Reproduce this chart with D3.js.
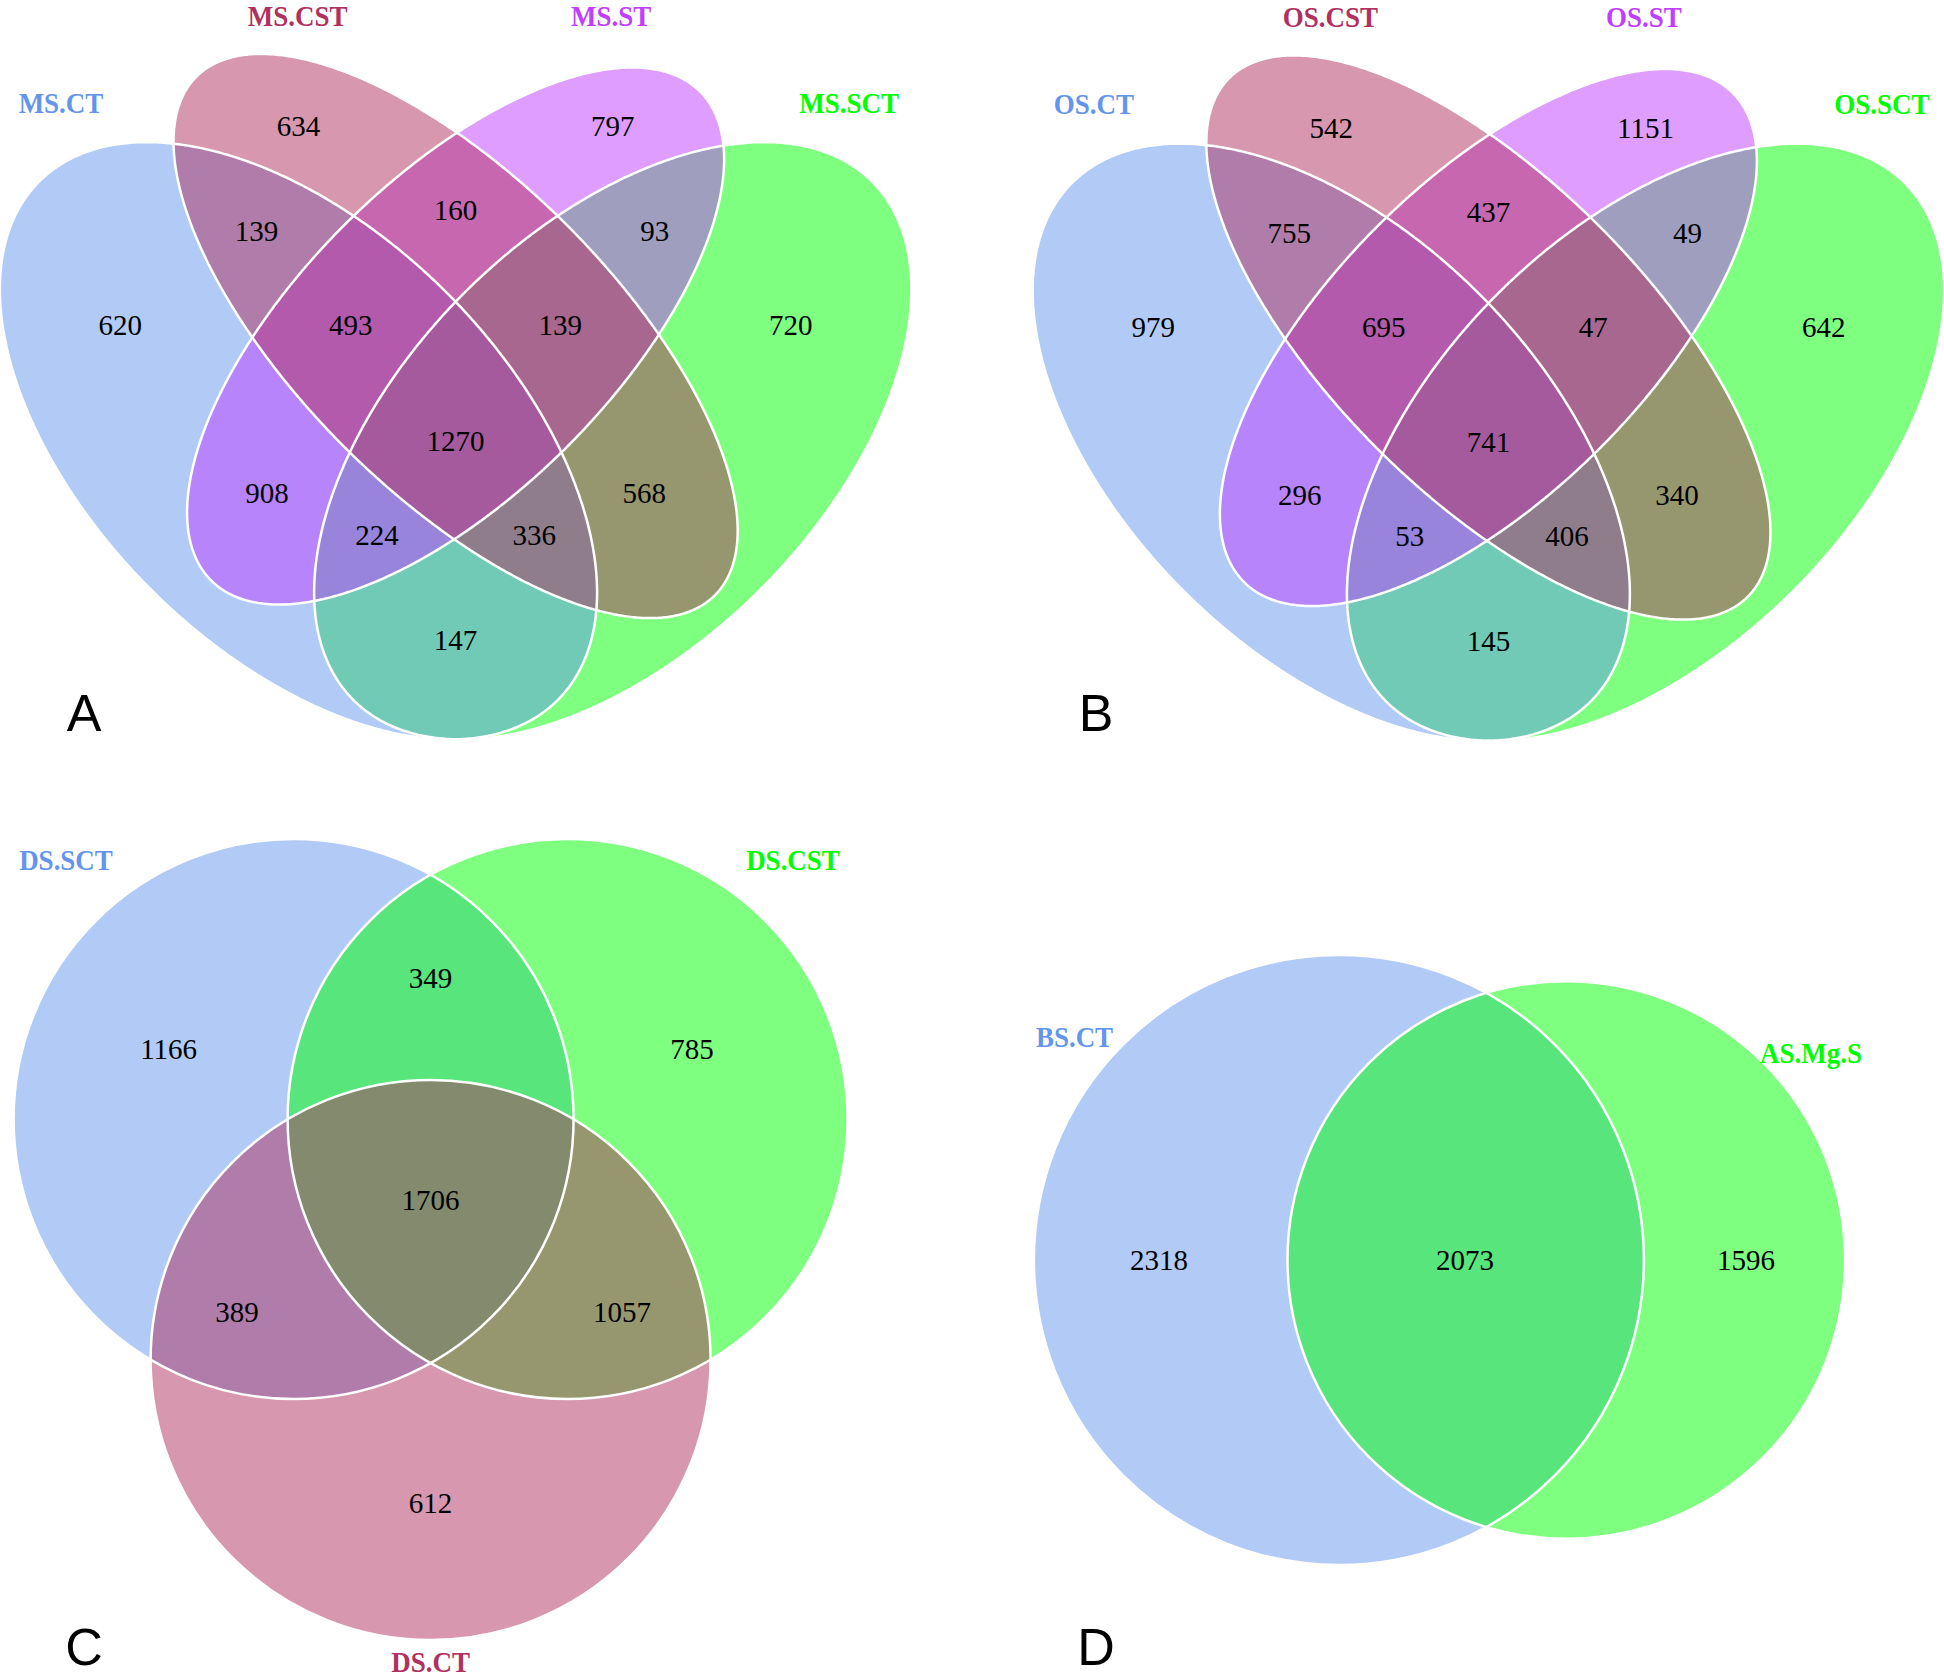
<!DOCTYPE html>
<html><head><meta charset="utf-8">
<script src="https://cdn.jsdelivr.net/npm/d3@7"></script>
<style>body{margin:0;background:#fff} svg{display:block}</style>
</head><body>
<script>
// ---------------- data ----------------
const setsA = ["MS.CT", "MS.CST", "MS.ST", "MS.SCT"];
const setsB = ["OS.CT", "OS.CST", "OS.ST", "OS.SCT"];
// region membership keys, set order: CT, CST, ST, SCT
const quadRegions = ["0100","0110","0010","1100","1110","1111","0111","0011","1000","1010","1011","1001","1101","0101","0001"];
const countsA = [634, 160, 797, 139, 493, 1270, 139, 93, 620, 908, 224, 147, 336, 568, 720];
const countsB = [542, 437, 1151, 755, 695, 741, 47, 49, 979, 296, 53, 145, 406, 340, 642];

const setsC = ["DS.SCT", "DS.CST", "DS.CT"];
const tripleRegions = ["100","110","010","111","101","011","001"];
const countsC = [1166, 349, 785, 1706, 389, 1057, 612];

const setsD = ["BS.CT", "AS.Mg.S"];
const pairRegions = ["10","11","01"];
const countsD = [2318, 2073, 1596];

const panelLetters = ["A", "B", "C", "D"];

// ---------------- layout / style ----------------
const W = 1944, H = 1680;
const svg = d3.select("body").append("svg").attr("width", W).attr("height", H);
const NUM_FONT = "'Liberation Serif','Times New Roman',serif";
const LET_FONT = "'Liberation Sans',Arial,sans-serif";
const cBlue = "#6495ED", cMaroon = "#B03060", cOrchid = "#BF3EFF", cGreen = "#00FF00";

function numLabel(g, x, y, v) {
  g.append("text").attr("x", x).attr("y", y).attr("dy", "0.34em")
    .attr("text-anchor", "middle").attr("font-family", NUM_FONT)
    .attr("font-size", 29).attr("fill", "#000").text(v);
}
function catLabel(g, x, y, txt, col) {
  g.append("g").attr("transform", `translate(${x},${y}) scale(0.9,1)`)
    .append("text").attr("text-anchor", "middle").attr("font-family", NUM_FONT)
    .attr("font-weight", "bold").attr("font-size", 30).attr("fill", col).text(txt);
}
function panelLetter(x, y, t) {
  svg.append("text").attr("x", x).attr("y", y).attr("text-anchor", "middle")
    .attr("font-family", LET_FONT).attr("font-size", 52).attr("fill", "#000").text(t);
}

// ---- 4-set ellipse venn (unit space, y up) ----
const quadEllipses = [
  {cx: 0.35, cy: 0.47, a: 0.35, b: 0.20, rot: 135, col: cBlue},
  {cx: 0.50, cy: 0.57, a: 0.35, b: 0.15, rot: 135, col: cMaroon},
  {cx: 0.50, cy: 0.57, a: 0.33, b: 0.15, rot: 45,  col: cOrchid},
  {cx: 0.65, cy: 0.47, a: 0.35, b: 0.20, rot: 45,  col: cGreen}
];
const quadDrawOrder = [3, 0, 2, 1];
const quadLabelPos = {
  "0100": [0.35, 0.77], "0110": [0.50, 0.69], "0010": [0.65, 0.77],
  "1100": [0.31, 0.67], "1110": [0.40, 0.58], "1111": [0.50, 0.47],
  "0111": [0.60, 0.58], "0011": [0.69, 0.67], "1000": [0.18, 0.58],
  "1010": [0.32, 0.42], "1011": [0.425, 0.38], "1001": [0.50, 0.28],
  "1101": [0.575, 0.38], "0101": [0.68, 0.42], "0001": [0.82, 0.58]
};
const quadCatPos = [[0.1233, 0.7829], [0.3492, 0.8660], [0.6484, 0.8660], [0.8756, 0.7829]];

function ellipsePts(e) {
  const r = e.rot * Math.PI / 180;
  return d3.range(0, 360, 0.5).map(deg => {
    const t = deg * Math.PI / 180;
    return [e.cx + e.a * Math.cos(t) * Math.cos(r) - e.b * Math.sin(t) * Math.sin(r),
            e.cy + e.a * Math.cos(t) * Math.sin(r) + e.b * Math.sin(t) * Math.cos(r)];
  });
}

function drawQuad(dx, dy, sets, counts) {
  const x = d3.scaleLinear().domain([0, 1]).range([-68.2 + dx, 979.4 + dx]);
  const y = d3.scaleLinear().domain([0, 1]).range([933.2 + dy, -114.5 + dy]);
  const g = svg.append("g");
  const line = d3.line().x(p => x(p[0])).y(p => y(p[1])).curve(d3.curveLinearClosed);
  quadDrawOrder.forEach(i => {
    g.append("path").attr("d", line(ellipsePts(quadEllipses[i])))
      .attr("fill", quadEllipses[i].col).attr("fill-opacity", 0.5).attr("stroke", "none");
  });
  quadDrawOrder.forEach(i => {
    g.append("path").attr("d", line(ellipsePts(quadEllipses[i])))
      .attr("fill", "none").attr("stroke", "#fff").attr("stroke-width", 2.5);
  });
  quadRegions.forEach((k, i) => {
    const p = quadLabelPos[k];
    numLabel(g, x(p[0]), y(p[1]), counts[i]);
  });
  sets.forEach((s, i) => catLabel(g, x(quadCatPos[i][0]), y(quadCatPos[i][1]), s, quadEllipses[i].col));
}

drawQuad(0, 0, setsA, countsA);
drawQuad(1032.8, 1.5, setsB, countsB);

// ---- 3-set circle venn ----
(function () {
  const x = d3.scaleLinear().domain([0, 1]).range([0, 1]);
  const y = d3.scaleLinear().domain([0, 1]).range([0, 1]);
  const circles = [
    {cx: 293.6, cy: 1119, r: 280, col: cBlue},
    {cx: 567.6, cy: 1119, r: 280, col: cGreen},
    {cx: 430.6, cy: 1360, r: 280, col: cMaroon}
  ];
  const labelPos = {
    "100": [168.6, 1049], "110": [430.6, 978], "010": [692, 1049],
    "111": [430.6, 1200], "101": [237, 1312], "011": [622, 1312], "001": [430.6, 1503]
  };
  const catPos = [[66, 870], [793, 870], [430.6, 1672]];
  const g = svg.append("g");
  circles.forEach(c => g.append("circle").attr("cx", x(c.cx)).attr("cy", y(c.cy)).attr("r", c.r)
    .attr("fill", c.col).attr("fill-opacity", 0.5));
  circles.forEach(c => g.append("circle").attr("cx", x(c.cx)).attr("cy", y(c.cy)).attr("r", c.r)
    .attr("fill", "none").attr("stroke", "#fff").attr("stroke-width", 2.5));
  tripleRegions.forEach((k, i) => numLabel(g, x(labelPos[k][0]), y(labelPos[k][1]), countsC[i]));
  setsC.forEach((s, i) => catLabel(g, x(catPos[i][0]), y(catPos[i][1]), s, circles[i].col));
})();

// ---- 2-set scaled venn ----
(function () {
  const tot1 = countsD[0] + countsD[1], tot2 = countsD[2] + countsD[1];
  const rS = d3.scaleSqrt().domain([0, tot1]).range([0, 305]);
  const r1 = rS(tot1), r2 = rS(tot2);
  const lens = d => {
    const a1 = Math.acos((d * d + r1 * r1 - r2 * r2) / (2 * d * r1));
    const a2 = Math.acos((d * d + r2 * r2 - r1 * r1) / (2 * d * r2));
    return r1 * r1 * a1 + r2 * r2 * a2 - 0.5 * Math.sqrt((-d + r1 + r2) * (d + r1 - r2) * (d - r1 + r2) * (d + r1 + r2));
  };
  const target = countsD[1] / tot1 * Math.PI * r1 * r1;
  let lo = Math.abs(r1 - r2) + 0.01, hi = r1 + r2 - 0.01;
  for (let k = 0; k < 80; k++) { const m = (lo + hi) / 2; if (lens(m) > target) lo = m; else hi = m; }
  const d = (lo + hi) / 2;
  const mid = 1439.5, cy = 1260;
  const c1x = mid - (r1 + d + r2) / 2 + r1, c2x = c1x + d;
  const circles = [{cx: c1x, r: r1, col: cBlue}, {cx: c2x, r: r2, col: cGreen}];
  const g = svg.append("g");
  circles.forEach(c => g.append("circle").attr("cx", c.cx).attr("cy", cy).attr("r", c.r)
    .attr("fill", c.col).attr("fill-opacity", 0.5));
  circles.forEach(c => g.append("circle").attr("cx", c.cx).attr("cy", cy).attr("r", c.r)
    .attr("fill", "none").attr("stroke", "#fff").attr("stroke-width", 2.5));
  const labelX = {"10": 1159, "11": 1465, "01": 1746};
  pairRegions.forEach((k, i) => numLabel(g, labelX[k], cy, countsD[i]));
  const catPos = [[1074.5, 1047], [1811, 1063]];
  setsD.forEach((s, i) => catLabel(g, catPos[i][0], catPos[i][1], s, circles[i].col));
})();

// ---- panel letters ----
const letterPos = [[84, 731], [1096, 731], [84, 1665], [1096, 1665]];
panelLetters.forEach((t, i) => panelLetter(letterPos[i][0], letterPos[i][1], t));
</script>
</body></html>
